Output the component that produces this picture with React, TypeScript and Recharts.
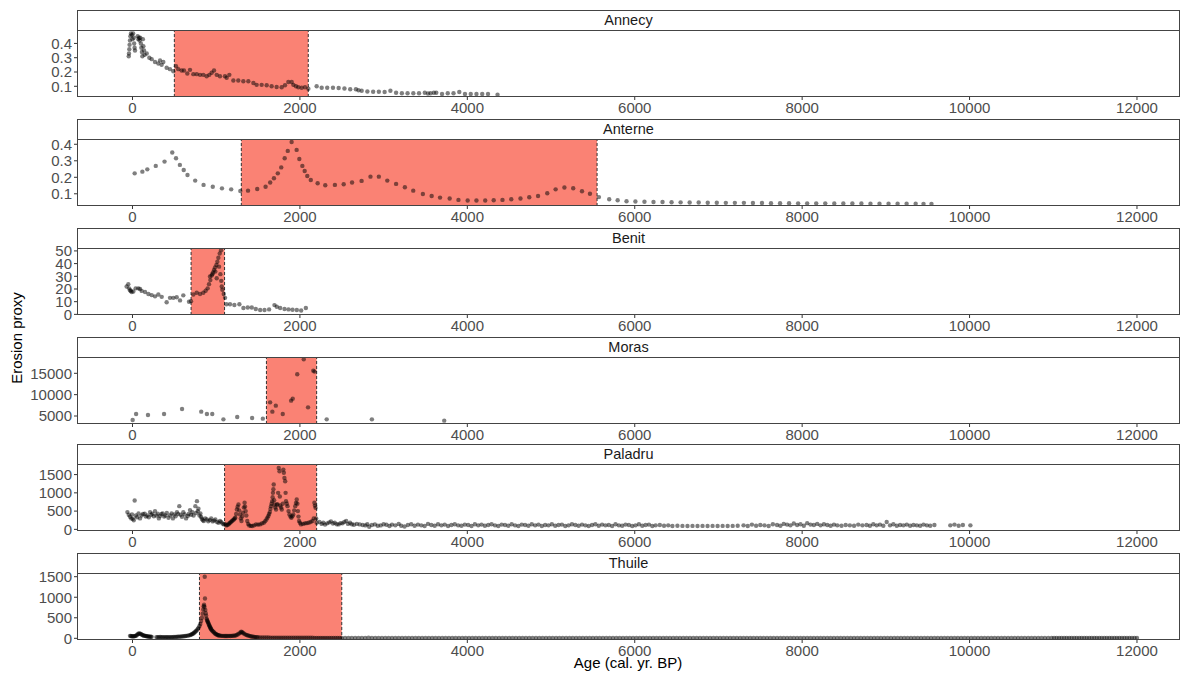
import React from "react";
import { ScatterChart, Scatter, XAxis, YAxis, ReferenceArea, ReferenceLine } from "recharts";

type P = [number, number];

const FONT = "'Liberation Sans', Arial, Helvetica, sans-serif";

const sites = ["Annecy", "Anterne", "Benit", "Moras", "Paladru", "Thuile"];
const windowStart = [500, 1300, 700, 1600, 1100, 800];
const windowEnd = [2100, 5550, 1100, 2200, 2200, 2500];
const yDomains: [number, number][] = [
  [0.025, 0.494],
  [0.026, 0.432],
  [-0.5, 52.3],
  [3127, 18817],
  [-45, 1790],
  [-41, 1590],
];
const yTicks = [
  [0.1, 0.2, 0.3, 0.4],
  [0.1, 0.2, 0.3, 0.4],
  [0, 10, 20, 30, 40, 50],
  [5000, 10000, 15000],
  [0, 500, 1000, 1500],
  [0, 500, 1000, 1500],
];
const xTicks = [0, 2000, 4000, 6000, 8000, 10000, 12000];
const xDomain: [number, number] = [-663, 12514];

const annecy: P[] = [
  [-45, 0.31], [-42, 0.33], [-38, 0.36], [-35, 0.39], [-30, 0.42], [-25, 0.45], [-18, 0.47], [-8, 0.46], [0, 0.43], [8, 0.47],
  [15, 0.44], [20, 0.4], [25, 0.37], [30, 0.35], [62, 0.45], [70, 0.43], [78, 0.44], [85, 0.42], [92, 0.44], [100, 0.4],
  [106, 0.37], [112, 0.34], [118, 0.31], [124, 0.43], [130, 0.38], [138, 0.35], [145, 0.32], [170, 0.33], [201, 0.3], [229, 0.29],
  [269, 0.27], [309, 0.26], [329, 0.28], [348, 0.25], [368, 0.27], [408, 0.23], [448, 0.22], [488, 0.205], [520, 0.24], [547, 0.22],
  [587, 0.21], [615, 0.21], [655, 0.19], [687, 0.215], [727, 0.185], [767, 0.185], [807, 0.18], [846, 0.18], [886, 0.17], [918, 0.18],
  [946, 0.195], [974, 0.21], [1006, 0.18], [1045, 0.17], [1105, 0.17], [1125, 0.16], [1157, 0.18], [1205, 0.14], [1264, 0.14], [1324, 0.135],
  [1384, 0.135], [1444, 0.123], [1483, 0.11], [1543, 0.11], [1603, 0.107], [1662, 0.1], [1722, 0.095], [1782, 0.093], [1822, 0.107], [1862, 0.13],
  [1902, 0.13], [1922, 0.11], [1953, 0.1], [1981, 0.093], [2021, 0.09], [2061, 0.093], [2101, 0.083], [2200, 0.1], [2260, 0.09], [2326, 0.09],
  [2395, 0.09], [2463, 0.088], [2532, 0.085], [2601, 0.079], [2669, 0.079], [2700, 0.072], [2738, 0.069], [2806, 0.064], [2875, 0.062], [2943, 0.062],
  [3012, 0.06], [3081, 0.069], [3149, 0.055], [3218, 0.051], [3286, 0.051], [3355, 0.051], [3423, 0.051], [3492, 0.055], [3530, 0.05], [3561, 0.051],
  [3600, 0.055], [3629, 0.055], [3698, 0.046], [3766, 0.051], [3835, 0.051], [3904, 0.06], [3972, 0.046], [4041, 0.046], [4109, 0.046], [4178, 0.046],
  [4247, 0.046], [4361, 0.041],
];

const anterne: P[] = [
  [26, 0.224], [118, 0.234], [177, 0.248], [278, 0.269], [383, 0.295], [475, 0.35], [520, 0.315], [566, 0.275], [612, 0.244], [657, 0.214],
  [749, 0.18], [849, 0.154], [959, 0.143], [1069, 0.133], [1179, 0.127], [1288, 0.117], [1380, 0.119], [1490, 0.129], [1590, 0.143], [1645, 0.168],
  [1690, 0.194], [1736, 0.224], [1777, 0.26], [1818, 0.315], [1855, 0.36], [1901, 0.414], [1961, 0.366], [1993, 0.311], [2029, 0.269], [2057, 0.238],
  [2088, 0.208], [2130, 0.184], [2212, 0.164], [2303, 0.152], [2418, 0.154], [2523, 0.158], [2623, 0.168], [2737, 0.178], [2843, 0.204], [2943, 0.204],
  [3044, 0.18], [3149, 0.16], [3254, 0.14], [3354, 0.119], [3469, 0.099], [3574, 0.087], [3674, 0.077], [3789, 0.071], [3894, 0.063], [4004, 0.059],
  [4109, 0.059], [4214, 0.059], [4315, 0.061], [4420, 0.063], [4525, 0.067], [4635, 0.071], [4740, 0.079], [4845, 0.087], [4955, 0.103], [5055, 0.127],
  [5160, 0.138], [5265, 0.134], [5370, 0.115], [5465, 0.1], [5572, 0.08], [5695, 0.067], [5796, 0.061], [5902, 0.055], [6008, 0.053], [6116, 0.052],
  [6224, 0.05], [6332, 0.05], [6440, 0.049], [6548, 0.048], [6656, 0.047], [6764, 0.047], [6872, 0.046], [6980, 0.046], [7088, 0.045], [7196, 0.045],
  [7304, 0.045], [7412, 0.044], [7520, 0.044], [7628, 0.043], [7736, 0.043], [7844, 0.043], [7952, 0.042], [8060, 0.042], [8168, 0.042], [8276, 0.042],
  [8384, 0.041], [8492, 0.041], [8600, 0.041], [8708, 0.041], [8816, 0.04], [8924, 0.04], [9032, 0.04], [9140, 0.04], [9248, 0.04], [9356, 0.04],
  [9450, 0.039], [9545, 0.039],
];

const benit: P[] = [
  [-70, 22], [-50, 23.8], [-40, 20.5], [-30, 19], [-20, 18.5], [-10, 17.6], [10, 18], [38, 20.5], [70, 20.5], [90, 20],
  [110, 18.5], [150, 17.6], [190, 16], [229, 15.2], [269, 14.2], [309, 15.6], [349, 13.8], [408, 9.6], [448, 13], [488, 13],
  [528, 13.5], [568, 11], [607, 15], [675, 10], [699, 10.4], [727, 15.6], [767, 17], [807, 16], [846, 17], [874, 18.6],
  [898, 20.5], [914, 23.8], [926, 29.8], [930, 27], [946, 30.6], [954, 31.7], [962, 33], [974, 35], [986, 37], [990, 33.7],
  [1002, 38.9], [1006, 28.5], [1014, 41.5], [1026, 44.6], [1034, 37.6], [1042, 48], [1050, 31.7], [1058, 50.5], [1060, 26.4], [1066, 22],
  [1074, 19.4], [1090, 16], [1106, 13], [1122, 8], [1165, 8], [1217, 7.4], [1277, 8], [1325, 5], [1377, 5.4], [1425, 5.4],
  [1473, 4.2], [1525, 3.4], [1577, 3.4], [1632, 3.9], [1696, 7.3], [1724, 6], [1764, 5], [1816, 4.2], [1864, 3.9], [1912, 3.6],
  [1963, 3.4], [2015, 3.1], [2071, 5],
];

const moras: P[] = [
  [2, 4060], [43, 5470], [185, 5230], [377, 5470], [592, 6640], [821, 6020], [889, 5470], [953, 5470], [1086, 4220], [1251, 4770],
  [1429, 4530], [1557, 4380], [1644, 8200], [1671, 6020], [1712, 7420], [1795, 5470], [1895, 8590], [1914, 9060], [1968, 14770], [2046, 18280],
  [2097, 7030], [2160, 15620], [2174, 15400], [2320, 4220], [2860, 4220], [3724, 3910],
];

const paladru: P[] = [
  [-61, 473], [-45, 400], [-30, 345], [-15, 300], [-6, 410], [3, 290], [15, 250], [26, 790], [40, 380], [55, 330],
  [72, 436], [90, 300], [109, 380], [125, 420], [146, 427], [160, 350], [178, 380], [195, 330], [210, 473], [225, 400],
  [238, 427], [255, 360], [269, 500], [285, 380], [301, 427], [315, 300], [329, 364], [345, 420], [361, 436], [378, 350],
  [393, 380], [410, 450], [430, 318], [450, 380], [467, 436], [483, 300], [499, 409], [515, 360], [531, 473], [545, 420],
  [559, 636], [575, 400], [591, 345], [607, 470], [623, 409], [640, 300], [660, 364], [672, 420], [687, 527], [700, 400],
  [715, 473], [730, 380], [751, 636], [760, 450], [770, 773], [780, 500], [788, 564], [800, 380], [811, 436], [820, 340],
  [829, 290], [840, 250], [852, 227], [870, 300], [889, 273], [905, 220], [926, 254], [940, 300], [958, 218], [975, 240],
  [990, 273], [1010, 200], [1027, 182], [1045, 230], [1059, 200], [1075, 160], [1091, 136],
  [1105, 150], [1119, 109], [1132, 120], [1146, 136], [1155, 160], [1165, 182], [1177, 200], [1188, 227], [1200, 250], [1211, 273],
  [1220, 300], [1229, 318], [1238, 420], [1247, 545], [1256, 620], [1266, 682], [1275, 520], [1284, 409], [1293, 300], [1302, 227],
  [1311, 350], [1320, 455], [1330, 600], [1339, 727], [1345, 620], [1352, 500], [1360, 380], [1371, 227], [1382, 150], [1394, 109],
  [1412, 95], [1430, 91], [1453, 110], [1476, 136], [1500, 130], [1522, 136], [1545, 160], [1568, 182], [1585, 220], [1600, 273],
  [1612, 320], [1623, 364], [1632, 420], [1641, 473], [1648, 560], [1655, 636], [1662, 700], [1669, 773], [1674, 880], [1678, 1000],
  [1683, 1100], [1687, 1227], [1692, 800], [1696, 682], [1705, 600], [1715, 545], [1724, 682], [1733, 682], [1740, 1000], [1747, 1682],
  [1756, 1591], [1760, 900], [1765, 655], [1775, 600], [1783, 545], [1795, 700], [1802, 1636], [1808, 1550], [1815, 1409], [1824, 1318],
  [1829, 1000], [1834, 773], [1843, 700], [1852, 636], [1864, 500], [1875, 409], [1887, 350], [1898, 318], [1910, 360], [1921, 409],
  [1932, 520], [1944, 636], [1953, 720], [1962, 818], [1970, 700], [1976, 500], [1983, 350], [1990, 227], [2000, 180], [2013, 136],
  [2036, 150], [2059, 164], [2080, 170], [2104, 182], [2127, 200], [2150, 227], [2165, 300], [2173, 727], [2180, 650], [2187, 591],
  [2195, 300], [2200, 182],
  [2233, 200], [2260, 150], [2279, 182], [2300, 130], [2325, 164], [2350, 190], [2371, 218], [2395, 160], [2416, 182], [2440, 140],
  [2462, 136], [2485, 170], [2508, 164], [2530, 200], [2553, 227], [2575, 150], [2599, 182], [2620, 140], [2645, 127], [2680, 150],
  [2714, 136], [2750, 120], [2782, 109], [2805, 140], [2828, 73], [2860, 120], [2896, 136], [2930, 100], [2965, 109], [3000, 140],
  [3034, 127], [3070, 90], [3100, 130], [3140, 110], [3180, 150], [3210, 100], [3250, 80], [3290, 120], [3330, 140], [3370, 100],
  [3410, 130], [3450, 110], [3490, 90], [3530, 150], [3570, 120], [3610, 100], [3650, 140], [3690, 110], [3730, 130], [3770, 90],
  [3810, 120], [3850, 140], [3890, 110], [3930, 100], [3970, 130], [4010, 120], [4050, 90], [4090, 140], [4130, 110], [4170, 130],
  [4210, 100], [4250, 120], [4290, 140], [4330, 110], [4370, 90], [4410, 130], [4450, 120], [4490, 100], [4530, 140], [4570, 110],
  [4610, 90], [4650, 130], [4690, 120], [4730, 100], [4770, 140], [4810, 110], [4850, 130], [4890, 90], [4930, 120], [4970, 110],
  [5010, 140], [5050, 100], [5090, 120], [5130, 130], [5170, 90], [5210, 110], [5250, 140], [5290, 120], [5330, 100], [5370, 130],
  [5410, 110], [5450, 90], [5490, 120], [5530, 140], [5570, 100], [5610, 130], [5650, 110], [5690, 120], [5730, 90], [5770, 140],
  [5810, 110], [5850, 100], [5890, 130], [5930, 120], [5970, 90], [6010, 110], [6050, 140], [6090, 100], [6130, 120], [6170, 130],
  [6210, 90], [6250, 110], [6300, 120], [6350, 100], [6400, 110], [6450, 90], [6510, 100], [6570, 95], [6630, 90], [6690, 95],
  [6750, 90], [6810, 95], [6870, 90], [6930, 95], [6990, 90], [7050, 95], [7110, 90], [7170, 95], [7230, 100], [7300, 110],
  [7350, 90], [7400, 130], [7450, 100], [7500, 120], [7550, 110], [7600, 90], [7650, 140], [7700, 120], [7740, 100], [7780, 150],
  [7820, 130], [7860, 110], [7900, 160], [7940, 120], [7980, 140], [8020, 100], [8060, 170], [8100, 130], [8140, 120], [8180, 150],
  [8220, 110], [8260, 140], [8300, 120], [8340, 100], [8380, 130], [8420, 110], [8470, 100], [8520, 120], [8570, 110], [8620, 100],
  [8670, 130], [8720, 110], [8770, 120], [8810, 100], [8850, 140], [8890, 110], [8930, 130], [8970, 100], [9010, 200], [9050, 110],
  [9090, 140], [9130, 100], [9170, 120], [9210, 110], [9250, 130], [9290, 100], [9330, 120], [9370, 110], [9410, 100], [9450, 130],
  [9490, 110], [9530, 100], [9580, 120], [9770, 110], [9820, 130], [9870, 100], [9920, 120], [10010, 110],
];

const thuile: P[] = [
  [-30, 60], [-20, 55], [-10, 50], [0, 52], [10, 48], [20, 50], [30, 55], [40, 60], [50, 75], [60, 95],
  [70, 110], [80, 120], [90, 115], [100, 105], [110, 90], [120, 80], [130, 70], [140, 65], [150, 60], [160, 55],
  [170, 50], [180, 48], [190, 45], [200, 42], [210, 40], [220, 38], [230, 36], [285, 30], [300, 28], [315, 30],
  [330, 32], [345, 30], [360, 28], [375, 30], [390, 28], [405, 25], [420, 25], [435, 28], [450, 30], [465, 28],
  [480, 30], [495, 32], [510, 35], [525, 36], [540, 38], [555, 40], [570, 42], [585, 45], [600, 48], [615, 50],
  [630, 55], [645, 60], [660, 65], [675, 72], [690, 80], [700, 90], [710, 100], [720, 110], [730, 125], [740, 140],
  [750, 160], [760, 180], [770, 200], [780, 230], [790, 260], [800, 300], [810, 350], [820, 420], [830, 500], [838, 600],
  [845, 700], [850, 780], [855, 820], [860, 770], [863, 1500], [866, 970], [870, 690], [875, 610], [880, 550], [885, 480],
  [890, 445], [895, 420], [900, 400], [905, 380], [910, 350], [915, 325], [920, 300], [925, 280], [930, 260], [935, 240],
  [940, 220], [946, 200], [955, 180], [965, 160], [975, 140], [985, 120], [995, 105], [1005, 95], [1015, 80], [1025, 75],
  [1035, 70], [1050, 65], [1065, 60], [1080, 60], [1095, 58], [1110, 56], [1125, 55], [1140, 58], [1155, 60], [1170, 58],
  [1185, 60], [1200, 62], [1215, 65], [1230, 70], [1245, 80], [1260, 100], [1275, 120], [1290, 140], [1300, 160], [1310, 150],
  [1320, 130], [1335, 110], [1350, 90], [1365, 80], [1380, 70], [1395, 60], [1410, 50], [1425, 45], [1440, 40], [1455, 35],
  [1470, 30], [1485, 28], [1500, 25], [1525, 24], [1550, 22], [1575, 22], [1600, 20], [1625, 20], [1650, 18], [1675, 18],
  [1700, 17], [1725, 17], [1750, 16], [1775, 16], [1800, 15], [1825, 15], [1850, 15], [1875, 14], [1900, 14], [1925, 14],
  [1950, 13], [1975, 13], [2000, 13], [2025, 13], [2050, 12], [2075, 12], [2100, 12], [2125, 12], [2150, 12], [2175, 11],
  [2200, 11], [2225, 11], [2250, 11], [2275, 11], [2300, 11], [2325, 10], [2350, 10], [2375, 10], [2400, 10], [2425, 10],
  [2450, 10], [2475, 10], [2500, 10],
  [2540, 10], [2580, 9], [2620, 10], [2660, 11], [2700, 10], [2740, 9], [2780, 10], [2820, 12], [2860, 11], [2900, 10],
  [2940, 9], [2980, 10], [3020, 11], [3060, 10], [3100, 9], [3140, 10], [3180, 10], [3220, 11], [3260, 10], [3300, 9],
  [3340, 10], [3380, 11], [3420, 10], [3460, 10], [3500, 9], [3540, 10], [3580, 11], [3620, 10], [3660, 9], [3700, 10],
  [3740, 10], [3780, 11], [3820, 10], [3860, 9], [3900, 10], [3940, 10], [3980, 11], [4020, 10], [4060, 9], [4100, 10],
  [4140, 11], [4180, 10], [4220, 10], [4260, 9], [4300, 10], [4340, 11], [4380, 10], [4420, 9], [4460, 10], [4500, 10],
  [4540, 11], [4580, 10], [4620, 9], [4660, 10], [4700, 11], [4740, 10], [4780, 10], [4820, 9], [4860, 10], [4900, 11],
  [4940, 10], [4980, 9], [5020, 10], [5060, 10], [5100, 11], [5140, 10], [5180, 9], [5220, 10], [5260, 11], [5300, 10],
  [5340, 10], [5380, 9], [5420, 10], [5460, 11], [5500, 10], [5540, 9], [5580, 10], [5620, 10], [5660, 11], [5700, 10],
  [5740, 9], [5780, 10], [5820, 11], [5860, 10], [5900, 10], [5940, 9], [5980, 10], [6020, 11], [6060, 10], [6100, 9],
  [6140, 10], [6180, 10], [6220, 11], [6260, 10], [6300, 9], [6340, 10], [6380, 11], [6420, 10], [6460, 10], [6500, 9],
  [6540, 10], [6580, 11], [6620, 10], [6660, 9], [6700, 10], [6740, 10], [6780, 11], [6820, 10], [6860, 9], [6900, 10],
  [6940, 11], [6980, 10], [7020, 10], [7060, 9], [7100, 10], [7140, 11], [7180, 10], [7220, 9], [7260, 10], [7300, 10],
  [7340, 11], [7380, 10], [7420, 9], [7460, 10], [7500, 11], [7540, 10], [7580, 10], [7620, 9], [7660, 10], [7700, 11],
  [7740, 10], [7780, 9], [7820, 10], [7860, 10], [7900, 11], [7940, 10], [7980, 9], [8020, 10], [8060, 11], [8100, 10],
  [8140, 10], [8180, 9], [8220, 10], [8260, 11], [8300, 10], [8340, 9], [8380, 10], [8420, 10], [8460, 11], [8500, 10],
  [8540, 9], [8580, 10], [8620, 11], [8660, 10], [8700, 10], [8740, 9], [8780, 10], [8820, 11], [8860, 10], [8900, 9],
  [8940, 10], [8980, 10], [9020, 11], [9060, 10], [9100, 9], [9140, 10], [9180, 11], [9220, 10], [9260, 10], [9300, 9],
  [9340, 10], [9380, 11], [9420, 10], [9460, 9], [9500, 10], [9540, 10], [9580, 11], [9620, 10], [9660, 9], [9700, 10],
  [9740, 11], [9780, 10], [9820, 10], [9860, 9], [9900, 10], [9940, 11], [9980, 10], [10020, 9], [10060, 10], [10100, 10],
  [10140, 11], [10180, 10], [10220, 9], [10260, 10], [10300, 11], [10340, 10], [10380, 10], [10420, 9], [10460, 10], [10500, 11],
  [10540, 10], [10580, 9], [10620, 10], [10660, 10], [10700, 11], [10740, 10], [10780, 9], [10820, 10], [10860, 11], [10900, 10],
  [10940, 10], [10980, 9],
  [11010, 10], [11040, 11], [11070, 10], [11100, 9], [11130, 10], [11160, 10], [11190, 11], [11220, 10], [11250, 9], [11280, 10],
  [11310, 10], [11340, 11], [11370, 10], [11400, 9], [11430, 10], [11460, 10], [11490, 11], [11520, 10], [11550, 9], [11580, 10],
  [11610, 10], [11640, 11], [11670, 10], [11700, 9], [11730, 10], [11760, 10], [11790, 11], [11820, 10], [11850, 9], [11880, 10],
  [11910, 10], [11940, 11], [11970, 10], [12000, 10],
];

const siteData: P[][] = [annecy, anterne, benit, moras, paladru, thuile];

// layout
const plotTops = [30, 139, 248, 357, 464, 573];
const PLOT_LEFT = 77;
const PLOT_W = 1103;
const PLOT_H = 67;
const STRIP_H = 20;
const AXIS_H = 24;
const PAD_TOP = 9;
const BORDER = "#444";

const Dot = (props: any) => {
  if (props.cx == null || props.cy == null) return null;
  return <circle cx={props.cx} cy={props.cy} r={2.2} fill="#000" fillOpacity={0.5} />;
};

function Panel({ i }: { i: number }) {
  const top = plotTops[i];
  const data = siteData[i].map(([x, y]) => ({ x, y }));
  return (
    <>
      <div
        style={{
          position: "absolute",
          left: PLOT_LEFT,
          top: top - STRIP_H,
          width: PLOT_W,
          height: STRIP_H + 1,
          boxSizing: "border-box",
          border: `1px solid ${BORDER}`,
          background: "#fff",
          textAlign: "center",
          fontFamily: FONT,
          fontSize: 14.5,
          lineHeight: `${STRIP_H - 1}px`,
          color: "#1a1a1a",
        }}
      >
        {sites[i]}
      </div>
      <div style={{ position: "absolute", left: 0, top: top - PAD_TOP, width: 1181, height: PLOT_H + AXIS_H + PAD_TOP }}>
        <ScatterChart
          width={1181}
          height={PLOT_H + AXIS_H + PAD_TOP}
          margin={{ top: PAD_TOP, right: 1181 - PLOT_LEFT - PLOT_W, bottom: 0, left: 0 }}
        >
          <XAxis
            type="number"
            dataKey="x"
            domain={xDomain}
            ticks={xTicks}
            allowDataOverflow
            height={AXIS_H}
            axisLine={false}
            tickSize={3}
            tickMargin={2}
            tickLine={{ stroke: "#333" }}
            tick={{ fill: "#4D4D4D", fontSize: 15, fontFamily: FONT }}
            interval={0}
          />
          <YAxis
            type="number"
            dataKey="y"
            domain={yDomains[i]}
            ticks={yTicks[i]}
            allowDataOverflow
            width={PLOT_LEFT}
            axisLine={false}
            tickSize={3}
            tickMargin={2}
            tickLine={{ stroke: "#333" }}
            tick={{ fill: "#4D4D4D", fontSize: 15, fontFamily: FONT }}
            interval={0}
          />
          <ReferenceArea
            x1={windowStart[i]}
            x2={windowEnd[i]}
            fill="#FA8274"
            fillOpacity={1}
            stroke="none"
            ifOverflow="visible"
          />
          <ReferenceLine x={windowStart[i]} stroke="#333" strokeWidth={1} strokeDasharray="3 2" />
          <ReferenceLine x={windowEnd[i]} stroke="#333" strokeWidth={1} strokeDasharray="3 2" />
          <Scatter data={data} isAnimationActive={false} shape={Dot} />
        </ScatterChart>
      </div>
      <div
        style={{
          position: "absolute",
          left: PLOT_LEFT,
          top,
          width: PLOT_W,
          height: PLOT_H,
          boxSizing: "border-box",
          border: `1px solid ${BORDER}`,
          pointerEvents: "none",
        }}
      />
    </>
  );
}

export default function App() {
  return (
    <div style={{ position: "absolute", left: 0, top: 0, width: 1181, height: 680, background: "#fff" }}>
      {sites.map((_, i) => (
        <Panel key={i} i={i} />
      ))}
      <svg width={1181} height={680} style={{ position: "absolute", left: 0, top: 0, pointerEvents: "none" }}>
        <text x={628} y={668} textAnchor="middle" fontFamily={FONT} fontSize={15} fill="#000">
          Age (cal. yr. BP)
        </text>
        <text
          x={0}
          y={0}
          transform="translate(22, 338) rotate(-90)"
          textAnchor="middle"
          fontFamily={FONT}
          fontSize={15}
          fill="#000"
        >
          Erosion proxy
        </text>
      </svg>
    </div>
  );
}
